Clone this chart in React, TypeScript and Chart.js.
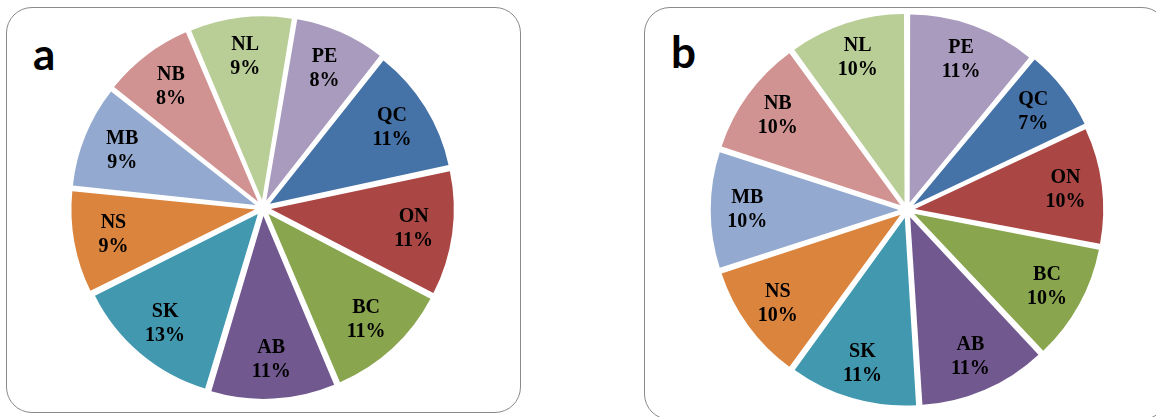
import React, { useEffect, useRef } from "react";
import { Chart, registerables } from "chart.js";

Chart.register(...registerables);

// Categories (clockwise from the start angle)
const categories = ["PE", "QC", "ON", "BC", "AB", "SK", "NS", "MB", "NB", "NL"];
// Panel a shares (%)
const valuesA = [8, 11, 11, 11, 11, 13, 9, 9, 8, 9];
// Panel b shares (%)
const valuesB = [11, 7, 10, 10, 11, 11, 10, 10, 10, 10];
// Slice colours by category
const colors = [
  "#A99BBD", // PE
  "#4572A7", // QC
  "#AA4643", // ON
  "#89A54E", // BC
  "#71588F", // AB
  "#4198AF", // SK
  "#DB843D", // NS
  "#93A9CF", // MB
  "#D19392", // NB
  "#B9CD96", // NL
];

const labelPlugin = {
  id: "sliceLabels",
  afterDatasetsDraw(chart: any, _args: any, opts: any) {
    const ctx = chart.ctx;
    const meta = chart.getDatasetMeta(0);
    const data = chart.data.datasets[0].data as number[];
    const labels = chart.data.labels as string[];
    const frac = opts.frac ?? 0.8;
    ctx.save();
    ctx.fillStyle = "#000";
    ctx.font = "bold 20px 'Liberation Serif', 'Times New Roman', serif";
    ctx.textAlign = "center";
    ctx.textBaseline = "middle";
    meta.data.forEach((arc: any, i: number) => {
      const p = arc.getProps(["x", "y", "startAngle", "endAngle", "outerRadius"], true);
      const off = (arc.options.offset || 0) / 4;
      const mid = (p.startAngle + p.endAngle) / 2;
      const r = p.outerRadius * frac + off;
      const cx = p.x + Math.cos(mid) * r;
      const cy = p.y + Math.sin(mid) * r;
      ctx.fillText(labels[i], cx, cy - 12);
      ctx.fillText(`${data[i]}%`, cx, cy + 12);
    });
    ctx.restore();
  },
};

function Pie({
  values,
  rotation,
  radius,
  frac,
  left,
  top,
  size,
}: {
  values: number[];
  rotation: number;
  radius: number;
  frac: number;
  left: number;
  top: number;
  size: number;
}) {
  const ref = useRef<HTMLCanvasElement | null>(null);
  useEffect(() => {
    if (!ref.current) return;
    const chart = new Chart(ref.current, {
      type: "pie",
      data: {
        labels: categories,
        datasets: [
          {
            data: values,
            backgroundColor: colors,
            borderWidth: 0,
            offset: 32,
          },
        ],
      },
      options: {
        responsive: false,
        animation: false,
        rotation,
        radius,
        layout: { padding: 0 },
        plugins: {
          legend: { display: false },
          tooltip: { enabled: false },
          sliceLabels: { frac },
        } as any,
      },
      plugins: [labelPlugin],
    });
    return () => chart.destroy();
  }, []);
  return (
    <canvas
      ref={ref}
      width={size}
      height={size}
      style={{ position: "absolute", left, top, width: size, height: size }}
    />
  );
}

const panelStyle: React.CSSProperties = {
  position: "absolute",
  border: "1.5px solid #8a8a8a",
  borderRadius: 26,
  boxSizing: "border-box",
  background: "#fff",
};

const letterStyle: React.CSSProperties = {
  position: "absolute",
  fontFamily: "Lato, 'Open Sans', sans-serif",
  fontWeight: 700,
  fontSize: 44,
  lineHeight: "44px",
  color: "#000",
};

export default function App() {
  return (
    <div
      style={{
        position: "absolute",
        left: 0,
        top: 0,
        width: 1156,
        height: 417,
        overflow: "hidden",
        background: "#fff",
      }}
    >
      <div style={{ ...panelStyle, left: 6, top: 7, width: 515, height: 406 }} />
      <div style={{ ...panelStyle, left: 644, top: 7, width: 524, height: 413 }} />
      <div style={{ ...letterStyle, left: 33, top: 31 }}>a</div>
      <div style={{ ...letterStyle, left: 671, top: 29 }}>b</div>
      <Pie values={valuesA} rotation={9.5} radius={180} frac={0.8} left={53} top={-2} size={420} />
      <Pie values={valuesB} rotation={0} radius={185} frac={0.82} left={697} top={0} size={420} />
    </div>
  );
}
